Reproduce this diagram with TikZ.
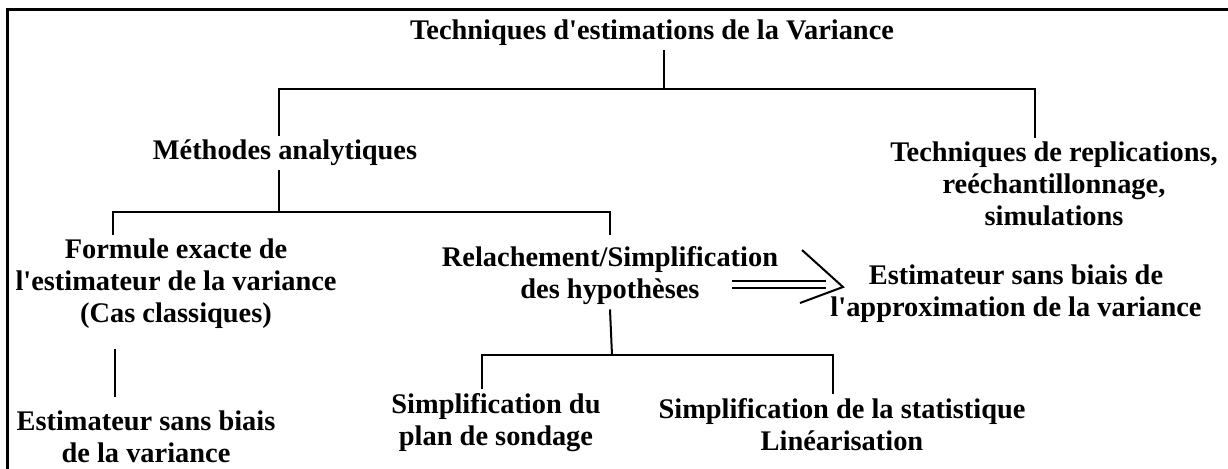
\documentclass[tikz,border=0pt]{standalone}
\usepackage{fontspec}
\setmainfont{Liberation Serif}
\usepackage{tikz}
\usetikzlibrary{calc}

\newcommand{\apos}{\textquotesingle}

\begin{document}
\begin{tikzpicture}[x=0.5pt,y=-0.5pt,
    lbl/.style={font=\bfseries\fontsize{14.2}{16}\selectfont,align=center,inner sep=2pt},
    link/.style={line width=1pt}]
  \useasboundingbox (0,0) rectangle (1228,468);
  \clip (0,0) rectangle (1228,468);
  \draw[line width=1.5pt] (7,490) -- (7,9.5) -- (1250,9.5);
  % labels
  \node[lbl] (title) at (652,33) {Techniques d\apos estimations de la Variance};
  \node[lbl] (methodes) at (285,153) {M\'ethodes analytiques};
  \node[lbl] (replic) at (1054,184) {Techniques de replications,\\ re\'echantillonnage,\\ simulations};
  \node[lbl] (formule) at (176,284) {Formule exacte de\\ l\apos estimateur de la variance\\ (Cas classiques)};
  \node[lbl] (relax) at (610,276) {Relachement/Simplification\\ des hypoth\`eses};
  \node[lbl] (approx) at (1016,294) {Estimateur sans biais de\\ l\apos approximation de la variance};
  \node[lbl] (estim) at (146,437) {Estimateur sans biais\\ de la variance};
  \node[lbl] (simplan) at (496,423) {Simplification du\\ plan de sondage};
  \node[lbl] (simstat) at (842,425) {Simplification de la statistique\\ Lin\'earisation};
  % forks
  \coordinate (h1) at (664,89);
  \coordinate (h2) at (279,212);
  \coordinate (h3) at (612,355);
  \draw[link] (title.south -| h1) -- (h1);
  \draw[link] ([xshift=-3pt]methodes.north) |- (h1) -| ([xshift=-9.5pt]replic.north);
  \draw[link] ([xshift=-3pt]methodes.south) -- (h2);
  \draw[link] ([xshift=-31.5pt]formule.north) |- (h2) -| (relax.north |- formule.north);
  \draw[link] (relax.south) -- (h3);
  \draw[link] ([xshift=-7pt]simplan.north) |- (h3) -| ([xshift=-4.5pt]simstat.north);
  \draw[link,shorten <=8pt,shorten >=5pt] ([xshift=-30.5pt]formule.south) -- ([xshift=-30.5pt]formule.south |- estim.north);
  % double arrow
  \coordinate (arrS) at (732,284);
  \coordinate (arrE) at (826,284);
  \coordinate (tip) at (843,287);
  \draw[link,double,double distance=2.5pt] (arrS) -- (arrE);
  \draw[link] ($(tip)+(-41,-37)$) -- (tip) -- ($(tip)+(-43,16)$);
\end{tikzpicture}
\end{document}
